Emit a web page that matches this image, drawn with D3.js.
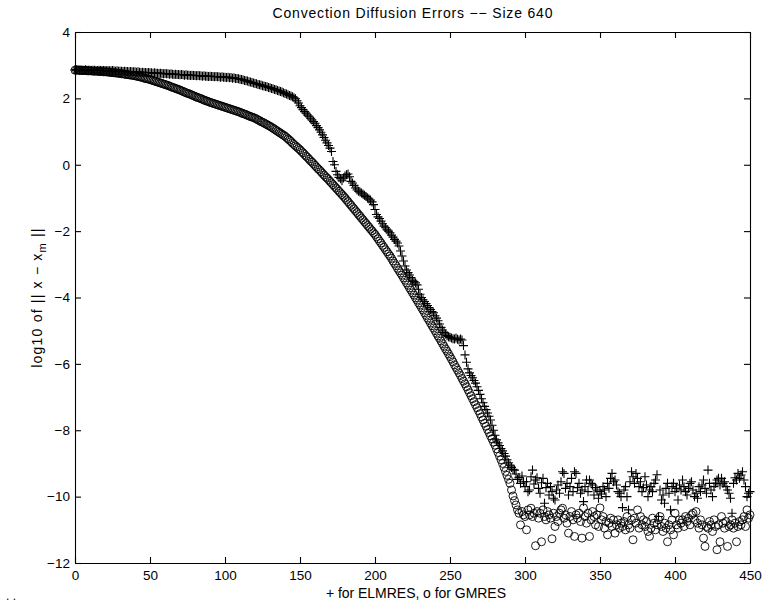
<!DOCTYPE html>
<html>
<head>
<meta charset="utf-8">
<script src="https://cdn.jsdelivr.net/npm/d3@7"></script>
<style>
  body { margin: 0; background: #fff; }
  svg { display: block; font-family: "Liberation Sans", Arial, Helvetica, sans-serif; }
</style>
</head>
<body>
<div id="chart"></div>
<script>
// chart text
var titleText = "Convection Diffusion Errors \u2212\u2212 Size 640";
var xLabelText = "+ for ELMRES, o for GMRES";

// tick values
var xTicks = [0, 50, 100, 150, 200, 250, 300, 350, 400, 450];
var yTicks = [4, 2, 0, -2, -4, -6, -8, -10, -12];

// log10 error per iteration (index = iteration)
var gmres = [
  2.85,2.85,2.85,2.85,2.84,2.84,2.84,2.84,2.83,2.83,
  2.83,2.83,2.82,2.82,2.82,2.82,2.81,2.81,2.81,2.80,
  2.80,2.80,2.79,2.79,2.78,2.78,2.77,2.77,2.76,2.76,
  2.75,2.74,2.74,2.73,2.72,2.72,2.71,2.70,2.70,2.69,
  2.68,2.67,2.66,2.65,2.64,2.63,2.61,2.60,2.59,2.58,
  2.57,2.55,2.54,2.52,2.51,2.49,2.48,2.46,2.45,2.43,
  2.42,2.40,2.39,2.37,2.35,2.33,2.32,2.30,2.28,2.27,
  2.25,2.23,2.21,2.19,2.17,2.15,2.14,2.12,2.10,2.08,
  2.06,2.04,2.02,2.01,1.99,1.97,1.95,1.93,1.92,1.90,
  1.88,1.87,1.85,1.84,1.82,1.81,1.79,1.78,1.76,1.75,
  1.73,1.72,1.70,1.69,1.67,1.66,1.64,1.63,1.61,1.60,
  1.58,1.56,1.54,1.53,1.51,1.49,1.47,1.45,1.44,1.42,
  1.40,1.38,1.35,1.33,1.30,1.28,1.26,1.23,1.21,1.18,
  1.16,1.13,1.10,1.07,1.04,1.01,0.98,0.95,0.92,0.89,
  0.86,0.82,0.78,0.74,0.70,0.65,0.61,0.57,0.53,0.49,
  0.45,0.40,0.36,0.31,0.26,0.22,0.17,0.12,0.08,0.03,
  -0.02,-0.07,-0.12,-0.16,-0.21,-0.26,-0.31,-0.36,-0.40,-0.45,
  -0.50,-0.55,-0.60,-0.65,-0.70,-0.75,-0.80,-0.85,-0.90,-0.95,
  -1.00,-1.06,-1.11,-1.17,-1.22,-1.28,-1.33,-1.39,-1.44,-1.50,
  -1.55,-1.61,-1.66,-1.72,-1.77,-1.83,-1.88,-1.94,-1.99,-2.05,
  -2.10,-2.17,-2.23,-2.30,-2.36,-2.43,-2.49,-2.56,-2.62,-2.69,
  -2.75,-2.82,-2.90,-2.97,-3.04,-3.12,-3.19,-3.26,-3.33,-3.41,
  -3.48,-3.56,-3.63,-3.71,-3.78,-3.86,-3.93,-4.01,-4.08,-4.16,
  -4.23,-4.31,-4.38,-4.46,-4.54,-4.62,-4.69,-4.77,-4.85,-4.92,
  -5.00,-5.08,-5.16,-5.23,-5.31,-5.39,-5.47,-5.55,-5.62,-5.70,
  -5.78,-5.86,-5.94,-6.03,-6.11,-6.19,-6.27,-6.35,-6.44,-6.52,
  -6.60,-6.69,-6.78,-6.87,-6.96,-7.05,-7.14,-7.23,-7.32,-7.41,
  -7.50,-7.60,-7.69,-7.79,-7.88,-7.98,-8.07,-8.17,-8.26,-8.36,
  -8.45,-8.56,-8.67,-8.78,-8.89,-9.00,-9.12,-9.24,-9.36,-9.48,
  -9.60,-9.80,-9.98,-10.12,-10.25,-10.40,-10.50,-10.85,-10.45,-10.55,
  -10.60,-11.00,-10.40,-10.55,-10.35,-10.60,-10.50,-11.48,-10.45,-10.65,
  -10.50,-11.36,-10.40,-10.60,-10.70,-10.45,-10.55,-10.65,-11.27,-10.50,
  -10.90,-10.60,-10.75,-10.50,-10.40,-10.35,-10.65,-10.55,-10.80,-11.10,
  -10.60,-10.45,-10.70,-11.20,-10.55,-10.65,-10.50,-10.75,-11.25,-10.34,
  -10.60,-10.80,-10.50,-11.20,-10.70,-10.45,-10.60,-10.85,-10.55,-10.90,
  -10.34,-10.70,-10.60,-10.95,-10.75,-11.15,-10.80,-10.65,-10.90,-10.70,
  -11.10,-10.85,-10.70,-10.95,-10.80,-10.90,-10.75,-11.00,-10.60,-10.85,
  -10.95,-10.70,-11.30,-10.65,-10.80,-10.40,-10.95,-10.60,-10.85,-10.70,
  -10.90,-10.75,-11.05,-11.20,-10.95,-10.65,-10.80,-11.00,-10.85,-10.70,
  -10.60,-10.90,-11.05,-10.80,-10.95,-11.36,-10.85,-11.00,-10.70,-11.15,
  -10.50,-10.85,-10.95,-10.70,-10.80,-10.70,-10.90,-10.60,-10.75,-10.65,
  -10.85,-10.55,-10.50,-10.70,-10.45,-10.80,-10.95,-10.70,-10.85,-11.25,
  -11.50,-10.90,-10.95,-10.75,-10.85,-11.05,-10.70,-10.90,-11.60,-10.85,
  -11.36,-10.60,-10.80,-10.95,-10.75,-11.50,-10.90,-10.85,-10.70,-10.95,
  -10.80,-11.36,-10.90,-10.75,-10.85,-10.70,-10.60,-10.90,-10.40,-10.65,
  -10.55
];

var elmres = [
  2.86,2.86,2.86,2.85,2.86,2.85,2.85,2.86,2.85,2.85,
  2.85,2.84,2.85,2.85,2.84,2.84,2.85,2.84,2.84,2.84,
  2.84,2.83,2.84,2.83,2.83,2.84,2.83,2.82,2.83,2.82,
  2.82,2.82,2.81,2.82,2.81,2.81,2.80,2.81,2.80,2.80,
  2.80,2.79,2.80,2.79,2.78,2.79,2.78,2.78,2.77,2.78,
  2.77,2.77,2.76,2.77,2.76,2.76,2.75,2.76,2.75,2.74,
  2.75,2.74,2.74,2.73,2.74,2.73,2.72,2.73,2.72,2.72,
  2.71,2.72,2.71,2.70,2.71,2.70,2.70,2.69,2.70,2.69,
  2.69,2.68,2.69,2.68,2.68,2.67,2.68,2.67,2.67,2.66,
  2.67,2.66,2.66,2.65,2.66,2.65,2.65,2.64,2.65,2.64,
  2.64,2.63,2.64,2.62,2.63,2.61,2.62,2.60,2.60,2.59,
  2.58,2.57,2.56,2.54,2.53,2.52,2.50,2.49,2.48,2.46,
  2.45,2.44,2.42,2.41,2.40,2.38,2.37,2.36,2.35,2.33,
  2.32,2.30,2.29,2.27,2.26,2.24,2.22,2.21,2.19,2.17,
  2.15,2.13,2.11,2.09,2.07,2.05,2.02,1.99,1.93,1.86,
  1.78,1.72,1.66,1.60,1.55,1.50,1.46,1.40,1.35,1.30,
  1.25,1.18,1.12,1.05,0.98,0.90,0.82,0.74,0.66,0.58,
  0.50,0.40,0.10,0.00,-0.20,-0.30,-0.38,-0.42,-0.48,-0.40,
  -0.34,-0.30,-0.28,-0.36,-0.50,-0.55,-0.62,-0.70,-0.76,-0.80,
  -0.82,-0.85,-0.88,-0.92,-0.96,-1.00,-1.03,-1.06,-1.12,-1.20,
  -1.35,-1.50,-1.57,-1.62,-1.70,-1.78,-1.85,-1.90,-1.96,-2.00,
  -2.05,-2.12,-2.18,-2.25,-2.30,-2.36,-2.45,-2.60,-2.75,-2.90,
  -3.05,-3.17,-3.25,-3.32,-3.40,-3.48,-3.52,-3.56,-3.62,-3.75,
  -3.90,-4.00,-4.07,-4.12,-4.18,-4.24,-4.30,-4.36,-4.42,-4.46,
  -4.55,-4.62,-4.70,-4.80,-4.90,-4.98,-5.05,-5.10,-5.15,-5.18,
  -5.20,-5.22,-5.24,-5.25,-5.22,-5.26,-5.28,-5.25,-5.28,-5.45,
  -5.73,-5.95,-6.15,-6.27,-6.35,-6.42,-6.50,-6.58,-6.69,-6.80,
  -6.92,-7.05,-7.17,-7.28,-7.38,-7.48,-7.58,-7.69,-7.85,-8.00,
  -8.15,-8.29,-8.38,-8.46,-8.55,-8.62,-8.70,-8.78,-8.89,-8.98,
  -9.05,-9.12,-9.18,-9.20,-9.32,-9.48,-9.42,-9.60,-9.38,-9.55,
  -9.70,-9.55,-9.85,-9.80,-9.40,-9.20,-9.62,-9.50,-9.43,-9.75,
  -9.90,-9.58,-9.45,-10.20,-9.73,-9.60,-9.95,-9.70,-9.85,-10.05,
  -10.10,-9.80,-9.65,-9.90,-9.55,-9.25,-9.30,-9.75,-9.60,-9.95,
  -9.70,-9.45,-9.85,-9.25,-9.30,-9.73,-9.60,-9.90,-9.80,-10.15,
  -9.70,-9.50,-9.85,-9.50,-9.60,-9.65,-9.95,-9.73,-9.80,-10.05,
  -9.85,-9.92,-9.70,-9.80,-10.00,-9.60,-9.75,-9.45,-9.30,-9.55,
  -9.50,-9.65,-9.85,-9.90,-10.00,-10.33,-9.80,-9.70,-10.00,-10.40,
  -9.55,-9.25,-9.40,-9.60,-9.30,-9.45,-9.70,-9.55,-9.85,-9.73,
  -9.40,-9.65,-10.00,-9.80,-9.70,-9.85,-9.60,-9.50,-9.34,-10.60,
  -9.80,-10.10,-9.95,-10.20,-9.75,-9.60,-9.90,-10.40,-9.70,-9.60,
  -9.85,-9.75,-10.10,-9.65,-9.80,-9.50,-9.70,-9.85,-9.95,-9.75,
  -9.60,-9.55,-9.80,-10.00,-9.90,-10.05,-9.70,-9.85,-9.65,-9.50,
  -9.75,-9.90,-9.20,-9.60,-9.80,-10.00,-9.70,-9.60,-9.50,-9.45,
  -9.65,-9.45,-9.60,-9.55,-9.70,-9.80,-9.90,-10.05,-10.50,-9.60,
  -9.43,-9.50,-9.30,-9.45,-9.35,-9.25,-9.50,-9.70,-10.00,-9.90,
  -9.85
];

var canvas_width = 762, canvas_height = 605;
var margin = {top: 32, right: 12, bottom: 42, left: 75};
var w = canvas_width - margin.left - margin.right;
var h = canvas_height - margin.top - margin.bottom;

var svg = d3.select("#chart")
    .append("svg")
    .attr("width", canvas_width)
    .attr("height", canvas_height);

var g = svg.append("g")
    .attr("transform", "translate(" + margin.left + "," + margin.top + ")");

var x = d3.scaleLinear().domain([0, 450]).range([0, w]);
var y = d3.scaleLinear().domain([-12, 4]).range([h, 0]);

// axes, ticks pointing in like matlab
g.append("g")
    .attr("class", "axis")
    .attr("transform", "translate(0," + h + ")")
    .call(d3.axisBottom(x).tickValues(xTicks).tickSizeInner(-6).tickSizeOuter(0).tickPadding(7));
g.append("g")
    .attr("class", "axis")
    .call(d3.axisTop(x).tickValues(xTicks).tickSizeInner(-6).tickSizeOuter(0).tickFormat(""));
g.append("g")
    .attr("class", "axis")
    .call(d3.axisLeft(y).tickValues(yTicks).tickSizeInner(-6).tickSizeOuter(0).tickPadding(5));
g.append("g")
    .attr("class", "axis")
    .attr("transform", "translate(" + w + ",0)")
    .call(d3.axisRight(y).tickValues(yTicks).tickSizeInner(-6).tickSizeOuter(0).tickFormat(""));

g.selectAll(".axis path, .axis line").attr("stroke", "#000").attr("stroke-width", 1.1);
g.selectAll(".axis text")
    .attr("fill", "#000")
    .style("font-size", "13.5px")
    .style("font-family", "'Liberation Sans', Arial, Helvetica, sans-serif");

// GMRES circles
g.append("g").selectAll("circle")
    .data(gmres)
    .enter()
        .append("circle")
        .attr("cx", function(d, i) { return x(i); })
        .attr("cy", function(d) { return y(d); })
        .attr("r", 4)
        .attr("fill", "none")
        .attr("stroke", "#000")
        .attr("stroke-width", 0.9);

// ELMRES plus signs
g.append("g").selectAll("path")
    .data(elmres)
    .enter()
        .append("path")
        .attr("d", "M-4.5,0H4.5M0,-4.5V4.5")
        .attr("transform", function(d, i) { return "translate(" + x(i) + "," + y(d) + ")"; })
        .attr("stroke", "#000")
        .attr("stroke-width", 1.1);

// title + labels (the original font runs wide, so stretch to measured widths)
svg.append("text")
    .attr("x", margin.left + w / 2)
    .attr("y", 18)
    .attr("text-anchor", "middle")
    .attr("textLength", 280)
    .attr("lengthAdjust", "spacing")
    .style("font-size", "14px")
    .text(titleText);

svg.append("text")
    .attr("x", 416)
    .attr("y", 598)
    .attr("text-anchor", "middle")
    .attr("textLength", 180)
    .attr("lengthAdjust", "spacing")
    .style("font-size", "14px")
    .text(xLabelText);

var yl = svg.append("text")
    .attr("transform", "translate(42," + (margin.top + h / 2) + ") rotate(-90)")
    .attr("text-anchor", "middle")
    .style("font-size", "14px")
    .style("letter-spacing", "1.2px");
yl.append("tspan").text("log10 of || x \u2212 x");
yl.append("tspan").attr("dy", 4).style("font-size", "11px").text("m");
yl.append("tspan").attr("dy", -4).text(" ||");

// stray dots in the corner of the original figure
svg.append("text")
    .attr("x", 6)
    .attr("y", 600)
    .style("font-size", "12px")
    .text(". .");
</script>
</body>
</html>
